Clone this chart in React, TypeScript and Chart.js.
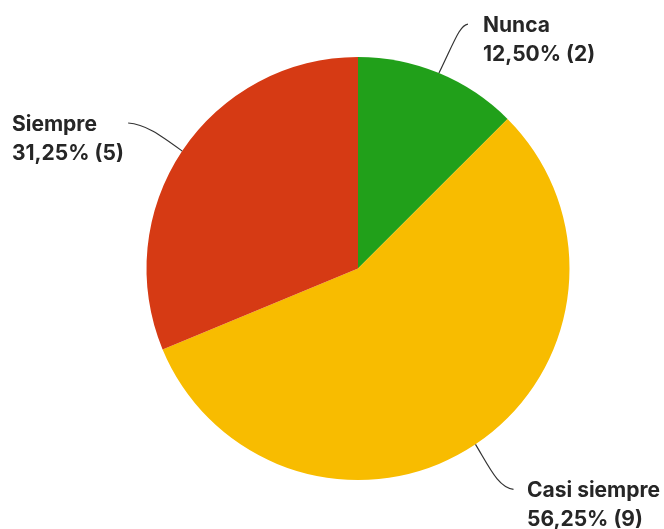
import React, { useEffect, useRef } from "react";
import { Chart, registerables } from "chart.js";

Chart.register(...registerables);

const categories = ["Nunca", "Casi siempre", "Siempre"];
const counts = [2, 9, 5];
const percentLabels = ["12,50%", "56,25%", "31,25%"];
const colors = ["#21A01A", "#F8BC00", "#D63A14"];

// label placement per slice: text anchor relative to chart, leader path offsets relative to edge point
const labelLayout = [
  { tx: 483, ty: 32, c1: [16, -33], c2: [21, -48], end: [29, -49] },
  { tx: 527, ty: 497, c1: [15, 25], c2: [23, 43], end: [38, 45] },
  { tx: 12, ty: 131, c1: [-22, -16], c2: [-37, -27], end: [-54, -28] },
];

const labelPlugin = {
  id: "leaderLabels",
  afterDatasetsDraw(chart: any) {
    const ctx = chart.ctx;
    const meta = chart.getDatasetMeta(0);
    ctx.save();
    meta.data.forEach((arc: any, i: number) => {
      const { x, y, startAngle, endAngle, outerRadius } = arc.getProps(
        ["x", "y", "startAngle", "endAngle", "outerRadius"],
        true
      );
      const mid = (startAngle + endAngle) / 2;
      const ex = x + Math.cos(mid) * outerRadius;
      const ey = y + Math.sin(mid) * outerRadius;
      const L = labelLayout[i];
      ctx.beginPath();
      ctx.moveTo(ex, ey);
      ctx.bezierCurveTo(
        ex + L.c1[0], ey + L.c1[1],
        ex + L.c2[0], ey + L.c2[1],
        ex + L.end[0], ey + L.end[1]
      );
      ctx.strokeStyle = "#333333";
      ctx.lineWidth = 1.2;
      ctx.stroke();

      ctx.fillStyle = "#262626";
      ctx.font = "700 21px Inter";
      ctx.textAlign = "left";
      ctx.textBaseline = "alphabetic";
      ctx.fillText(categories[i], L.tx, L.ty);
      ctx.fillText(`${percentLabels[i]} (${counts[i]})`, L.tx, L.ty + 29);
    });
    ctx.restore();
  },
};

export default function App() {
  const ref = useRef<HTMLCanvasElement>(null);
  useEffect(() => {
    if (!ref.current) return;
    const chart = new Chart(ref.current, {
      type: "pie",
      data: {
        labels: categories,
        datasets: [
          {
            data: counts,
            backgroundColor: colors,
            borderWidth: 0,
          },
        ],
      },
      options: {
        responsive: false,
        animation: false,
        layout: { padding: { left: 146.5, right: 94.5, top: 57, bottom: 49 } },
        plugins: {
          legend: { display: false },
          tooltip: { enabled: false },
          title: { display: false },
        },
      },
      plugins: [labelPlugin],
    });
    return () => chart.destroy();
  }, []);
  return (
    <div style={{ position: "absolute", left: 0, top: 0, width: 664, height: 529, background: "#fff" }}>
      <canvas ref={ref} width={664} height={529} style={{ width: 664, height: 529, display: "block" }} />
    </div>
  );
}
